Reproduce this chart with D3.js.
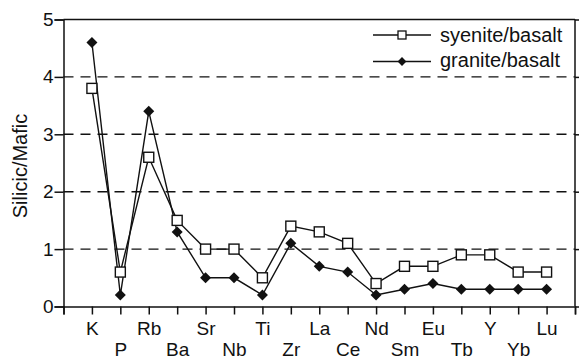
<!DOCTYPE html>
<html><head><meta charset="utf-8">
<script src="https://cdn.jsdelivr.net/npm/d3@7"></script>
<style>body{margin:0;background:#fff}svg{display:block}text{font-family:"Liberation Sans",Arial,sans-serif;fill:#111}</style>
</head><body>
<svg id="c" width="579" height="359"></svg>
<script>
const categories = ["K","P","Rb","Ba","Sr","Nb","Ti","Zr","La","Ce","Nd","Sm","Eu","Tb","Y","Yb","Lu"];
const syenite = [3.8,0.6,2.6,1.5,1.0,1.0,0.5,1.4,1.3,1.1,0.4,0.7,0.7,0.9,0.9,0.6,0.6];
const granite = [4.6,0.2,3.4,1.3,0.5,0.5,0.2,1.1,0.7,0.6,0.2,0.3,0.4,0.3,0.3,0.3,0.3];
const yTicks = [0,1,2,3,4,5];
const gridVals = [1,2,3,4];

const svg = d3.select("#c");
const L = 63.5, R = 575, T = 19.5, B = 306.5;
const x = d3.scaleLinear().domain([0, categories.length + 1]).range([L, R]);
const y = d3.scaleLinear().domain([0,5]).range([B, T]);
const ink = "#111";
const FF = "Liberation Sans, Arial, sans-serif";

// grid
svg.append("g").selectAll("line").data(gridVals).join("line")
  .attr("x1", L).attr("x2", R).attr("y1", d=>y(d)).attr("y2", d=>y(d))
  .attr("stroke", ink).attr("stroke-width", 1.4).attr("stroke-dasharray","10,7");

// frame
svg.append("line").attr("x1",L).attr("x2",R).attr("y1",T).attr("y2",T).attr("stroke",ink).attr("stroke-width",1.5);
svg.append("line").attr("x1",R).attr("x2",R).attr("y1",T).attr("y2",B).attr("stroke",ink).attr("stroke-width",1.5);

// left axis
const ya = svg.append("g").attr("transform",`translate(${L},0)`)
  .call(d3.axisLeft(y).tickValues(yTicks).tickFormat(d3.format("d")).tickSize(9).tickPadding(1));
ya.select(".domain").attr("stroke",ink).attr("stroke-width",1.5);
ya.selectAll(".tick line").attr("stroke",ink).attr("stroke-width",1.5);
ya.selectAll(".tick text").attr("font-size",19).attr("fill",ink).style("font-family",FF);

// right axis ticks (outward)
const yr = svg.append("g").attr("transform",`translate(${R},0)`)
  .call(d3.axisRight(y).tickValues(yTicks).tickFormat("").tickSize(4));
yr.select(".domain").remove();
yr.selectAll(".tick line").attr("stroke",ink).attr("stroke-width",1.5);

// bottom axis
const idx = d3.range(0, categories.length + 2);
const xa = svg.append("g").attr("transform",`translate(0,${B})`)
  .call(d3.axisBottom(x).tickValues(idx).tickSize(8).tickFormat(i => (i>=1 && i<=categories.length) ? categories[i-1] : ""));
xa.select(".domain").attr("stroke",ink).attr("stroke-width",1.5);
xa.selectAll(".tick line").attr("stroke",ink).attr("stroke-width",1.5);
xa.selectAll(".tick text").attr("font-size",19).attr("fill",ink).style("font-family",FF)
  .attr("y", i => (i % 2 === 1) ? 28.5 : 49.5).attr("dy","0");

// y label
svg.append("text").attr("transform",`translate(27,166) rotate(-90)`)
  .attr("text-anchor","middle").attr("font-size",20).text("Silicic/Mafic");

const line = d3.line().x((d,i)=>x(i+1)).y(d=>y(d));
svg.append("path").datum(syenite).attr("d",line).attr("fill","none").attr("stroke",ink).attr("stroke-width",1.4);
svg.append("path").datum(granite).attr("d",line).attr("fill","none").attr("stroke",ink).attr("stroke-width",1.4);

const dm = 5.5;
const diamondPath = `M0,${-dm}L${dm},0L0,${dm}L${-dm},0Z`;
svg.append("g").selectAll("path").data(granite).join("path")
  .attr("transform",(d,i)=>`translate(${x(i+1)},${y(d)})`).attr("d",diamondPath).attr("fill",ink);
const sq = 10;
svg.append("g").selectAll("rect").data(syenite).join("rect")
  .attr("x",(d,i)=>x(i+1)-sq/2).attr("y",d=>y(d)-sq/2).attr("width",sq).attr("height",sq)
  .attr("fill","#fff").attr("stroke",ink).attr("stroke-width",1.4);

// legend
const lg = svg.append("g");
const l1 = 35, l2 = 61.5, lx1 = 373, lx2 = 431, lm = 402;
lg.append("line").attr("x1",lx1).attr("x2",lx2).attr("y1",l1).attr("y2",l1).attr("stroke",ink).attr("stroke-width",1.4);
lg.append("rect").attr("x",lm-4).attr("y",l1-4).attr("width",8).attr("height",8).attr("fill","#fff").attr("stroke",ink).attr("stroke-width",1.3);
lg.append("text").attr("x",440).attr("y",41.5).attr("font-size",20).text("syenite/basalt");
lg.append("line").attr("x1",lx1).attr("x2",lx2).attr("y1",l2).attr("y2",l2).attr("stroke",ink).attr("stroke-width",1.4);
lg.append("path").attr("transform",`translate(${lm},${l2}) scale(0.8)`).attr("d",diamondPath).attr("fill",ink);
lg.append("text").attr("x",440).attr("y",66.5).attr("font-size",20).text("granite/basalt");
</script>
</body></html>
